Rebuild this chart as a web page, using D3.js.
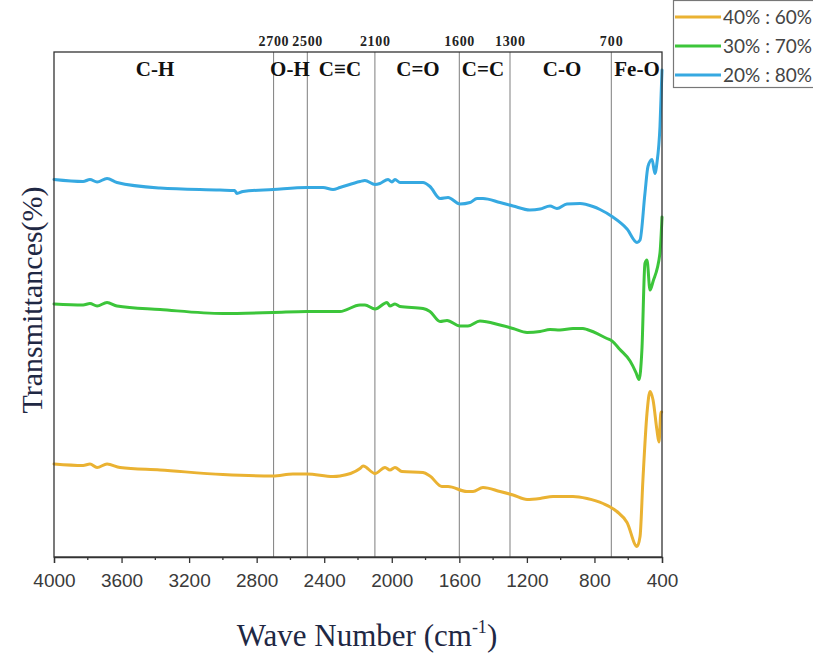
<!DOCTYPE html>
<html>
<head>
<meta charset="utf-8">
<script src="https://cdn.jsdelivr.net/npm/d3@7"></script>
<style>
  html, body { margin: 0; padding: 0; background: #fff; }
  svg { display: block; }
</style>
</head>
<body>
<svg id="chart" width="813" height="656"></svg>
<script>
// FTIR spectra: wavenumber (cm-1) vs transmittance (arbitrary, offset per sample)
const seriesNames = ["40% : 60%", "30% : 70%", "20% : 80%"];
const seriesColors = ["#EAB232", "#3CC53A", "#36A9E1"];

const spectrum40 = [
  [4000, 17.6], [3828, 17.3], [3787, 17.6], [3745, 16.9], [3686, 17.6], [3609, 16.9],
  [3372, 16.4], [3000, 15.5], [2703, 15.2], [2585, 15.6], [2502, 15.6], [2348, 15.1],
  [2307, 15.2], [2188, 16.7], [2170, 17.2], [2099, 15.7], [2040, 16.9], [2011, 16.4],
  [1981, 16.9], [1940, 16.1], [1815, 15.9], [1774, 15.2], [1703, 13.1], [1667, 13.1],
  [1555, 12.1], [1519, 12.1], [1460, 12.9], [1359, 12.1], [1282, 11.4], [1199, 10.5],
  [1122, 10.7], [1045, 11.1], [927, 11.1], [844, 10.7], [749, 9.7], [667, 8.1],
  [607, 5.9], [548, 1.1], [530, 3.1], [513, 14.4], [489, 27.7], [471, 32.1],
  [453, 30.4], [430, 24.4], [418, 22.0], [406, 28.0], [402, 28.0]
];

const spectrum30 = [
  [4000, 49.6], [3828, 49.4], [3787, 49.7], [3745, 49.2], [3686, 49.9], [3627, 49.2],
  [3372, 48.5], [3000, 47.7], [2703, 47.9], [2502, 48.1], [2348, 48.1], [2307, 48.1],
  [2188, 49.4], [2159, 49.4], [2099, 48.6], [2028, 49.9], [2011, 49.2], [1981, 49.6],
  [1951, 49.1], [1815, 48.7], [1774, 48.1], [1714, 46.1], [1673, 46.3], [1596, 45.2],
  [1549, 45.2], [1478, 46.2], [1359, 45.4], [1282, 44.7], [1199, 43.9], [1122, 44.1],
  [1063, 44.5], [1004, 44.4], [927, 44.7], [868, 44.7], [844, 44.5], [726, 42.7],
  [696, 42.2], [649, 40.5], [589, 38.2], [554, 35.9], [536, 34.5], [519, 40.4],
  [501, 57.7], [489, 58.4], [471, 52.4], [453, 54.1], [412, 59.8], [400, 67.0]
];

const spectrum20 = [
  [4000, 74.5], [3828, 74.1], [3787, 74.5], [3745, 74.0], [3686, 74.7], [3627, 73.9],
  [3372, 72.8], [3017, 72.4], [2930, 72.3], [2917, 71.7], [2881, 72.1], [2703, 72.5],
  [2502, 72.9], [2407, 72.9], [2348, 72.5], [2307, 72.9], [2188, 74.1], [2159, 74.3],
  [2099, 73.5], [2070, 73.7], [2022, 74.5], [1999, 74.0], [1981, 74.5], [1951, 73.9],
  [1815, 73.9], [1774, 73.1], [1714, 70.7], [1667, 70.9], [1596, 69.6], [1537, 69.9],
  [1495, 70.7], [1460, 70.7], [1359, 69.9], [1282, 69.2], [1182, 68.4], [1122, 68.6],
  [1063, 69.2], [1022, 68.7], [963, 69.6], [885, 69.7], [809, 69.1], [767, 68.5],
  [696, 67.1], [607, 64.6], [548, 61.9], [530, 62.4], [501, 71.7], [483, 77.1],
  [459, 78.5], [442, 75.7], [430, 77.8], [412, 85.1], [400, 96.4]
];

const xTicks = [4000, 3600, 3200, 2800, 2400, 2000, 1600, 1200, 800, 400];
const bandLines = [2700, 2500, 2100, 1600, 1300, 700];
const bandGroups = ["C-H", "O-H", "C≡C", "C=O", "C=C", "C-O", "Fe-O"];
const bandCenters = [3402, 2603, 2307, 1845, 1460, 992, 548];

const svg = d3.select("#chart");
const plotLeft = 54, plotRight = 662, plotTop = 52, plotBottom = 557;

const x = d3.scaleLinear().domain([4000, 400]).range([plotLeft, plotRight]);
const y = d3.scaleLinear().domain([0, 100]).range([plotBottom - 5, plotTop]);

// band separators
svg.append("g").selectAll("line").data(bandLines).join("line")
  .attr("x1", d => x(d)).attr("x2", d => x(d))
  .attr("y1", plotTop).attr("y2", plotBottom)
  .attr("stroke", "#8a8a8a").attr("stroke-width", 1.1);

// band wavenumber labels above the frame
svg.append("g").selectAll("text").data(bandLines).join("text")
  .attr("x", d => x(d)).attr("y", 46)
  .attr("text-anchor", "middle")
  .attr("font-family", "Liberation Serif, serif")
  .attr("font-size", 14).attr("font-weight", "bold").attr("fill", "#222")
  .attr("textLength", d => d >= 1000 ? 30 : 23)
  .text(d => d);

// functional group labels
svg.append("g").selectAll("text").data(bandGroups).join("text")
  .attr("x", (d, i) => x(bandCenters[i])).attr("y", 76)
  .attr("text-anchor", "middle")
  .attr("font-family", "Liberation Serif, serif")
  .attr("font-size", 21).attr("font-weight", "bold").attr("fill", "#111")
  .text(d => d);

// spectra
const line = d3.line().x(d => x(d[0])).y(d => y(d[1])).curve(d3.curveMonotoneX);
const spectra = [spectrum40, spectrum30, spectrum20];
svg.append("g").selectAll("path").data(spectra).join("path")
  .attr("d", line)
  .attr("fill", "none")
  .attr("stroke", (d, i) => seriesColors[i])
  .attr("stroke-width", 3)
  .attr("stroke-linejoin", "round")
  .attr("stroke-linecap", "round");

// frame
svg.append("rect")
  .attr("x", plotLeft).attr("y", plotTop)
  .attr("width", plotRight - plotLeft).attr("height", plotBottom - plotTop)
  .attr("fill", "none").attr("stroke", "#333").attr("stroke-width", 1.3);

// bottom axis
const xAxis = d3.axisBottom(x).tickValues(xTicks).tickSize(6).tickPadding(11)
  .tickFormat(d3.format("d"));
const gx = svg.append("g").attr("transform", `translate(0,${plotBottom})`).call(xAxis);
gx.select(".domain").attr("stroke", "#333").attr("stroke-width", 1.3);
gx.selectAll(".tick line").attr("stroke", "#333").attr("stroke-width", 1.3);
gx.selectAll(".tick text")
  .attr("font-family", "Liberation Sans, Arial, sans-serif")
  .attr("font-size", 19).attr("fill", "#3a3a3a");
const minorTicks = d3.range(3800, 400, -400);
svg.append("g").selectAll("line").data(minorTicks).join("line")
  .attr("x1", d => x(d)).attr("x2", d => x(d))
  .attr("y1", plotBottom).attr("y2", plotBottom + 3)
  .attr("stroke", "#333").attr("stroke-width", 1.3);

// axis titles
const xt = svg.append("text")
  .attr("x", 367).attr("y", 646)
  .attr("text-anchor", "middle")
  .attr("font-family", "Liberation Serif, serif")
  .attr("font-size", 31).attr("fill", "#1f2844");
xt.append("tspan").text("Wave Number (cm");
xt.append("tspan").attr("font-size", 18).attr("dy", -13).text("-1");
xt.append("tspan").attr("dy", 13).text(")");

svg.append("text")
  .attr("transform", "translate(42,300) rotate(-90)")
  .attr("text-anchor", "middle")
  .attr("font-family", "Liberation Serif, serif")
  .attr("font-size", 30).attr("fill", "#1f2844")
  .text("Transmittances(%)");

// legend
const lg = svg.append("g");
lg.append("rect")
  .attr("x", 673.5).attr("y", 0.5).attr("width", 150).attr("height", 87)
  .attr("fill", "#fff").attr("stroke", "#777").attr("stroke-width", 1.2);
const rows = lg.selectAll("g.row").data(seriesNames).join("g")
  .attr("class", "row")
  .attr("transform", (d, i) => `translate(0,${17 + i * 29})`);
rows.append("line")
  .attr("x1", 675).attr("x2", 721).attr("y1", 0).attr("y2", 0)
  .attr("stroke", (d, i) => seriesColors[i]).attr("stroke-width", 3);
rows.append("text")
  .attr("x", 723).attr("y", 7)
  .attr("font-family", "Lato, sans-serif")
  .attr("font-size", 19).attr("fill", "#444")
  .text(d => d);
</script>
</body>
</html>
